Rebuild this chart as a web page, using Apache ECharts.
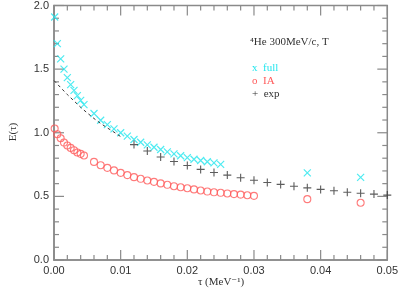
<!DOCTYPE html>
<html><head><meta charset="utf-8">
<script src="https://cdn.jsdelivr.net/npm/echarts@6/dist/echarts.min.js"></script>
<style>html,body{margin:0;padding:0;background:#fff}#c{width:401px;height:289px}</style>
</head><body><div id="c"></div>
<script>
var tauFull = [0.0001,0.0005,0.001,0.0015,0.002,0.0025,0.003,0.0035,0.004,0.0045,
  0.006,0.007,0.008,0.009,0.010,0.011,0.012,0.013,0.014,0.015,0.016,0.017,0.018,0.019,0.020,0.021,0.022,0.023,0.024,0.025,0.038,0.046];
var fullVals = [1.91,1.70,1.58,1.50,1.433,1.378,1.333,1.292,1.255,1.221,
  1.151,1.098,1.064,1.03,1.0,0.973,0.947,0.925,0.905,0.886,0.868,0.85,0.834,0.819,0.805,0.792,0.782,0.772,0.763,0.752,0.685,0.649];
var tauIA = [0.0001,0.0005,0.001,0.0015,0.002,0.0025,0.003,0.0035,0.004,0.0045,
  0.006,0.007,0.008,0.009,0.010,0.011,0.012,0.013,0.014,0.015,0.016,0.017,0.018,0.019,0.020,0.021,0.022,0.023,0.024,0.025,0.026,0.027,0.028,0.029,0.030,0.038,0.046];
var iaVals = [1.033,0.988,0.957,0.923,0.9,0.881,0.863,0.845,0.834,0.821,
  0.771,0.745,0.724,0.704,0.685,0.667,0.651,0.638,0.625,0.614,0.602,0.591,0.580,0.572,0.564,0.555,0.546,0.538,0.532,0.528,0.523,0.518,0.514,0.509,0.504,0.478,0.45];
var tauExp = [0.012,0.014,0.016,0.018,0.020,0.022,0.024,0.026,0.028,0.030,0.032,0.034,0.036,0.038,0.040,0.042,0.044,0.046,0.048,0.050];
var expVals = [0.907,0.857,0.81,0.774,0.743,0.712,0.688,0.667,0.646,0.627,0.609,0.594,0.58,0.567,0.555,0.544,0.533,0.525,0.518,0.51];
var tauDash = [0,0.001,0.002,0.003,0.004,0.005,0.006,0.007,0.008,0.009,0.010];
var dashVals = [1.41,1.355,1.30,1.25,1.20,1.155,1.112,1.073,1.038,1.005,0.97];
var xTicks = ['0.00','0.01','0.02','0.03','0.04','0.05'];
var yTicks = ['0.0','0.5','1.0','1.5','2.0'];
var xMajor = [0,0.01,0.02,0.03,0.04,0.05];
var yMajor = [0,0.5,1.0,1.5,2.0];
var xTitle = 'τ (MeV⁻¹)';
var yTitle = 'E(τ)';
var plotTitle = '⁴He 300MeV/c, T';
var legendItems = ['x  full','o  IA','+  exp'];

var X0=0, X1=0.05, Y0=0, Y1=2;
function pairs(a,b){return a.map(function(v,i){return [v,b[i]];});}
function tickList(majors, step){
  var out=[];
  majors.forEach(function(m,i){
    out.push([m,1]);
    if(i<majors.length-1){ for(var j=1;j<5;j++){ out.push([m+j*step,0]); } }
  });
  return out;
}
var xTickData = tickList(xMajor, 0.002);
var yTickData = tickList(yMajor, 0.1);

var cyan='#22e6ee', red='#ff5a5a', blk='#333333', axc='#8a8a8a';
var serif='"Liberation Serif","DejaVu Serif",serif';
var sans='"Liberation Sans","DejaVu Sans",sans-serif';
var xSym='path://M0,0L10,10M10,0L0,10';
var pSym='path://M5,0L5,10M0,5L10,5';
var legColors=[cyan,red,blk];
var tickStyle={stroke:axc,lineWidth:1.2};

function xTickRender(params, api){
  var v=api.value(0), major=api.value(1)===1, L=major?10:5;
  var b=api.coord([v,Y0]), t=api.coord([v,Y1]);
  return {type:'group',children:[
    {type:'line',shape:{x1:b[0],y1:b[1],x2:b[0],y2:b[1]-L},style:tickStyle},
    {type:'line',shape:{x1:t[0],y1:t[1],x2:t[0],y2:t[1]+L},style:tickStyle}
  ]};
}
function yTickRender(params, api){
  var v=api.value(0), major=api.value(1)===1, L=major?10:5;
  var l=api.coord([X0,v]), r=api.coord([X1,v]);
  return {type:'group',children:[
    {type:'line',shape:{x1:l[0],y1:l[1],x2:l[0]+L,y2:l[1]},style:tickStyle},
    {type:'line',shape:{x1:r[0],y1:r[1],x2:r[0]-L,y2:r[1]},style:tickStyle}
  ]};
}

var chart = echarts.init(document.getElementById('c'));
chart.setOption({
  animation:false,
  grid:{left:54,right:12,top:5,bottom:29,show:true,borderColor:axc,borderWidth:1.5,backgroundColor:'transparent'},
  xAxis:{type:'value', min:X0, max:X1, interval:0.01,
    axisLine:{show:true,lineStyle:{color:axc,width:1.5}},
    axisTick:{show:false}, minorTick:{show:false},
    splitLine:{show:false},
    axisLabel:{margin:5,color:blk,fontFamily:sans,fontSize:11,
      formatter:function(v){return xTicks[Math.round(v/0.01)];}}},
  yAxis:{type:'value', min:Y0, max:Y1, interval:0.5,
    axisLine:{show:true,lineStyle:{color:axc,width:1.5}},
    axisTick:{show:false}, minorTick:{show:false},
    splitLine:{show:false},
    axisLabel:{margin:5,color:blk,fontFamily:sans,fontSize:11,
      formatter:function(v){return yTicks[Math.round(v/0.5)];}}},
  series:[
    {type:'custom',data:xTickData,renderItem:xTickRender,silent:true,clip:false,z:1,
      encode:{x:0,y:1}},
    {type:'custom',data:yTickData.map(function(d){return [d[0],d[1]];}),renderItem:yTickRender,silent:true,clip:false,z:1,
      encode:{x:-1,y:0}},
    {type:'line',data:pairs(tauDash,dashVals),symbol:'none',
      lineStyle:{color:blk,width:1,type:[3,3]}},
    {type:'scatter',data:pairs(tauFull,fullVals),symbol:xSym,symbolSize:7,
      itemStyle:{color:'none',borderColor:cyan,borderWidth:1.2}},
    {type:'scatter',data:pairs(tauIA,iaVals),symbol:'circle',symbolSize:7,
      itemStyle:{color:'none',borderColor:red,borderWidth:1.1}},
    {type:'scatter',data:pairs(tauExp,expVals),symbol:pSym,symbolSize:8,
      itemStyle:{color:'none',borderColor:blk,borderWidth:1.1}}
  ],
  graphic:[
    {type:'text',x:221,y:282,style:{text:xTitle,fontFamily:serif,fontSize:11,fill:blk,align:'center',verticalAlign:'middle'}},
    {type:'text',x:13,y:132,rotation:Math.PI/2,style:{text:yTitle,fontFamily:serif,fontSize:11,fill:blk,align:'center',verticalAlign:'middle'}},
    {type:'text',left:250,top:37,style:{text:plotTitle,fontFamily:serif,fontSize:11,fill:blk}}
  ].concat(legendItems.map(function(t,i){
    return {type:'text',left:252,top:63+i*13,style:{text:t,fontFamily:serif,fontSize:11,fill:legColors[i]}};
  }))
});
</script></body></html>
